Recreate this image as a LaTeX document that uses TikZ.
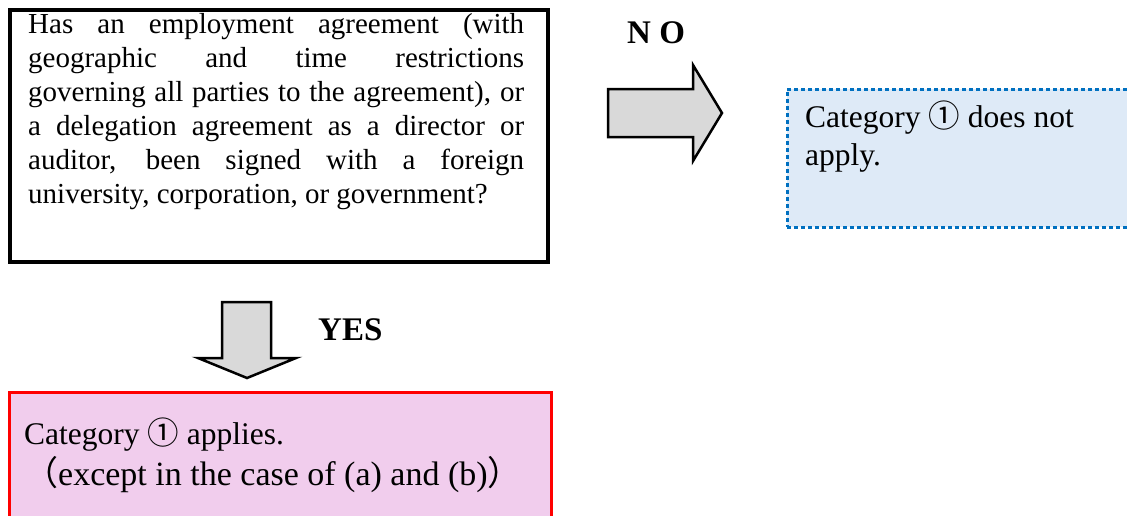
\documentclass[tikz,border=0pt]{standalone}
\usepackage{fontspec}
\setmainfont{Liberation Serif}
\newfontfamily\cjkfont{Noto Sans CJK JP}
\newcommand{\circone}{{\cjkfont ①}}
\newcommand{\flparen}{{\cjkfont （}}
\newcommand{\frparen}{{\cjkfont ）}}
\definecolor{arrowgray}{RGB}{217,217,217}
\definecolor{pinkfill}{RGB}{241,205,237}
\definecolor{bluefill}{RGB}{222,234,247}
\definecolor{dotblue}{RGB}{0,112,192}
\tikzset{
  qbox/.style={draw=black, line width=4pt, fill=white, inner sep=0pt},
  yesbox/.style={draw=red, line width=3pt, fill=pinkfill, inner sep=0pt},
  nobox/.style={draw=dotblue, line width=3pt, dash pattern=on 4pt off 3pt, fill=bluefill, inner sep=0pt},
  blockarrow/.style={draw=black, line width=2.5pt, fill=arrowgray, line join=miter},
  bodytext/.style={anchor=base west, inner sep=0pt, align=left},
  lab/.style={anchor=base west, inner sep=0pt, font=\fontsize{33}{38}\selectfont\bfseries}
}
\begin{document}
\begin{tikzpicture}[x=1pt,y=-1pt]
\useasboundingbox (0,0) rectangle (1127,515);
\clip (0,0) rectangle (1127,515);
% question box
\node[qbox, minimum width=538pt, minimum height=252pt] (q) at (279,136) {};
\node[bodytext] (qt) at (28,33) {\parbox[t]{496pt}{\fontsize{29}{34}\selectfont
Has an employment agreement (with\linebreak
geographic and time restrictions\linebreak
governing all parties to the agreement), or\linebreak
a delegation agreement as a director or\linebreak
auditor, been signed with a foreign\linebreak
university, corporation, or government?}};
% no branch
\node[nobox, minimum width=353pt, minimum height=138pt] (nob) at (963.5,158) {};
\node[bodytext] (not) at (805,127) {\parbox[t]{320pt}{\fontsize{31.5}{38}\selectfont
Category \circone{} does not\\apply.}};
\node[lab] (nolab) at (627,43) {N O};
\coordinate (ra) at (608,89);
\draw[blockarrow] (ra) -- ++(85,0) -- ++(0,-24) -- ++(29,48) -- ++(-29,48) -- ++(0,-24) -- ++(-85,0) -- cycle;
% yes branch
\node[yesbox, minimum width=541.5pt, minimum height=138pt] (yb) at (280.25,461) {};
\node[bodytext, font=\fontsize{31.5}{38}\selectfont] (yt1) at (24,444) {Category \circone{} applies.};
\node[bodytext, font=\fontsize{34}{40}\selectfont] (yt2) at (24,485) {\flparen except in the case of (a) and (b)\frparen};
\node[lab] (yeslab) at (318,340) {YES};
\coordinate (da) at (222,302);
\draw[blockarrow] (da) -- ++(49,0) -- ++(0,56) -- ++(25,0) -- ++(-49,20) -- ++(-49,-20) -- ++(24,0) -- cycle;
\end{tikzpicture}
\end{document}
